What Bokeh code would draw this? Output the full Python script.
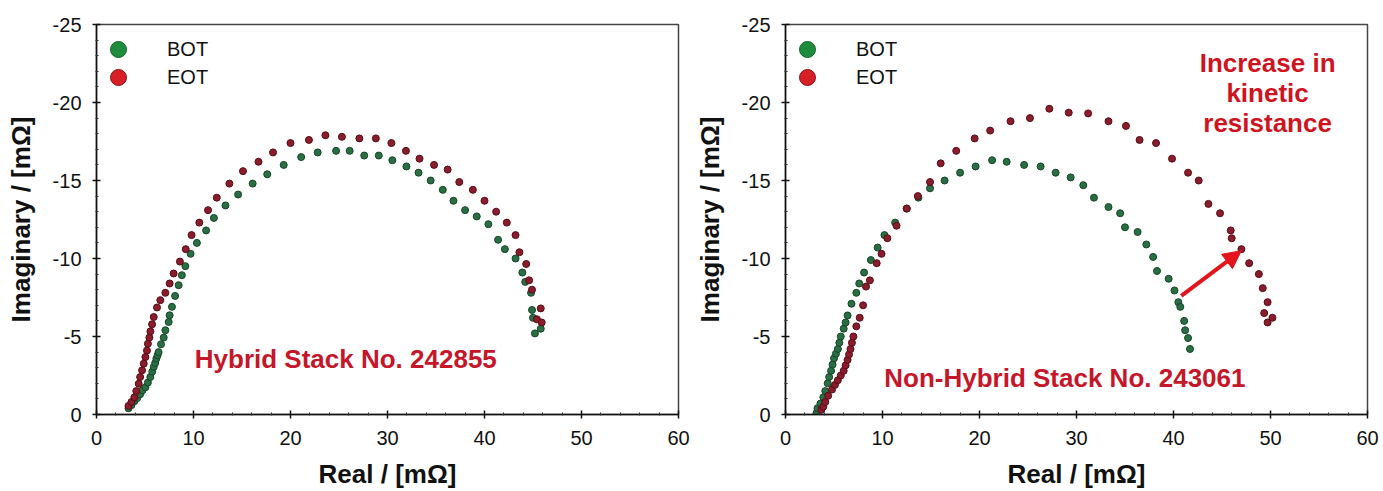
from bokeh.plotting import figure
from bokeh.layouts import row
from bokeh.models import (Range1d, FixedTicker, Legend, LegendItem, Arrow, NormalHead)
from bokeh.core.properties import value
from bokeh.embed import file_html
from bokeh.resources import INLINE

# ---------------- data ----------------
# Hybrid stack No. 242855
hyb_bot_real = [3.3, 3.6, 3.9, 4.2, 4.5, 4.75, 5.05, 5.3, 5.55, 5.75, 5.9, 6.05, 6.17, 6.3, 6.4,
                6.65, 6.93, 7.1, 7.44, 7.54, 7.78, 8.1, 8.47, 8.8, 9.16, 9.7, 10.35, 11.3, 12.1,
                13.3, 14.6, 16.1, 17.6, 19.3, 21.1, 22.8, 24.7, 26.1, 27.6, 29.1, 30.5, 31.95,
                33.2, 34.45, 35.7, 36.8, 38.0, 39.2, 40.4, 41.4, 42.1, 43.2, 43.9, 44.2, 44.8,
                44.9, 45.0, 45.8, 45.2]
hyb_bot_imag = [-0.4, -0.6, -0.85, -1.05, -1.3, -1.55, -1.75, -2.05, -2.4, -2.75, -3.05, -3.3,
                -3.58, -3.8, -4.0, -4.5, -4.93, -5.4, -5.93, -6.36, -6.9, -7.6, -8.29, -8.93,
                -9.51, -10.3, -11.0, -11.8, -12.6, -13.4, -14.1, -14.8, -15.4, -16.0, -16.5,
                -16.8, -16.9, -16.9, -16.6, -16.6, -16.3, -15.9, -15.5, -15.0, -14.4, -13.7,
                -13.1, -12.7, -12.2, -11.2, -10.6, -10.0, -9.1, -8.5, -7.8, -6.7, -6.2, -5.5,
                -5.2]
hyb_eot_real = [3.3, 3.6, 3.9, 4.1, 4.35, 4.5, 4.7, 4.87, 5.04, 5.2, 5.3, 5.45, 5.56, 5.73, 5.9,
                6.24, 6.58, 7.1, 7.54, 7.95, 8.6, 9.2, 9.8, 10.6, 11.5, 12.4, 13.7, 15.1, 16.7,
                18.2, 20.0, 21.9, 23.6, 25.3, 27.1, 28.8, 30.4, 31.9, 33.3, 34.8, 36.2, 37.4,
                38.8, 40.0, 41.2, 42.3, 43.2, 43.6, 44.3, 44.6, 44.9, 45.8, 45.4, 45.9]
hyb_eot_imag = [-0.55, -0.8, -1.1, -1.5, -1.97, -2.4, -2.83, -3.26, -3.68, -4.1, -4.54, -4.93,
                -5.33, -5.78, -6.25, -6.86, -7.33, -7.8, -8.4, -9.04, -9.8, -10.6, -11.5, -12.3,
                -13.1, -13.9, -14.8, -15.6, -16.2, -16.8, -17.4, -17.6, -17.9, -17.8, -17.7,
                -17.7, -17.4, -16.9, -16.4, -16.0, -15.7, -14.9, -14.4, -13.7, -13.0, -12.3,
                -11.5, -10.4, -9.65, -8.6, -8.0, -6.8, -6.1, -5.9]

# Non-hybrid stack No. 243061
non_bot_real = [3.2, 3.3, 3.6, 3.9, 4.1, 4.35, 4.5, 4.7, 4.85, 5.0, 5.2, 5.4, 5.55, 5.7, 6.0, 6.2,
                6.4, 6.8, 7.3, 7.6, 8.1, 8.8, 9.5, 10.2, 11.3, 12.5, 13.7, 14.9, 16.4, 18.0, 19.6,
                21.3, 22.8, 24.6, 26.3, 27.85, 29.4, 30.7, 31.8, 33.3, 34.5, 35.0, 36.3, 37.2,
                37.9, 38.3, 39.5, 40.1, 40.5, 40.7, 41.1, 41.2, 41.5, 41.7]
non_bot_imag = [-0.1, -0.4, -0.7, -1.1, -1.5, -2.0, -2.4, -2.8, -3.2, -3.6, -3.9, -4.2, -4.6,
                -5.0, -5.5, -5.9, -6.35, -7.1, -7.8, -8.4, -9.1, -9.9, -10.7, -11.5, -12.3,
                -13.2, -13.9, -14.5, -15.0, -15.5, -15.9, -16.3, -16.2, -16.0, -15.9, -15.5,
                -15.2, -14.7, -13.9, -13.3, -12.9, -12.0, -11.7, -10.9, -10.1, -9.2, -8.7,
                -7.95, -7.2, -6.9, -6.0, -5.4, -4.9, -4.2]
non_eot_real = [3.7, 3.9, 4.1, 4.4, 4.8, 5.1, 5.4, 5.7, 6.0, 6.2, 6.4, 6.55, 6.7, 6.85, 7.0, 7.3,
                7.65, 8.0, 8.3, 8.7, 9.4, 9.9, 10.5, 11.45, 12.5, 13.65, 14.9, 16.0, 17.6, 19.5,
                21.1, 23.2, 25.2, 27.2, 29.2, 31.2, 33.3, 35.1, 36.5, 38.2, 39.85, 41.5, 42.6,
                43.6, 44.8, 45.9, 46.0, 47.0, 47.8, 48.8, 49.2, 49.7, 49.35, 49.7, 50.2]
non_eot_imag = [-0.3, -0.5, -0.8, -1.2, -1.6, -1.9, -2.2, -2.5, -2.8, -3.15, -3.5, -3.85, -4.2,
                -4.6, -5.0, -5.65, -6.2, -7.0, -8.2, -8.6, -9.7, -10.3, -11.3, -12.1, -13.2,
                -14.0, -14.9, -16.1, -16.9, -17.7, -18.2, -18.8, -19.0, -19.6, -19.35, -19.3,
                -18.8, -18.5, -17.6, -17.4, -16.4, -15.5, -15.0, -13.5, -12.9, -11.8, -11.3,
                -10.6, -9.7, -9.0, -8.1, -7.2, -6.5, -5.9, -6.2]

series_names = ["BOT", "EOT"]
x_ticks = [0, 10, 20, 30, 40, 50, 60]
x_tick_labels = ["0", "10", "20", "30", "40", "50", "60"]
y_ticks = [0, -5, -10, -15, -20, -25]
y_tick_labels = ["0", "-5", "-10", "-15", "-20", "-25"]
x_label = "Real / [mΩ]"
y_label = "Imaginary / [mΩ]"

left_note = ["Hybrid Stack No. 242855"]
left_note_x = [25.7]
left_note_y = [-3.58]
right_note = ["Non-Hybrid Stack No. 243061"]
right_note_x = [28.8]
right_note_y = [-2.33]
callout = ["Increase in\nkinetic\nresistance"]
callout_x = [49.7]
callout_y = [-20.6]
arrow_start = (40.8, -7.6)
arrow_end = (47.0, -10.5)

# ---------------- style ----------------
FONT = "Liberation Sans"
GREEN_FILL, GREEN_LINE = "#2a6f44", "#164527"
RED_FILL, RED_LINE = "#8a1c2b", "#560e17"
LEG_GREEN, LEG_GREEN_LINE = "#1e8c3c", "#13662a"
LEG_RED, LEG_RED_LINE = "#d71f27", "#8c1218"
NOTE_RED = "#c5162a"
ARROW_RED = "#e3141b"
NAN = float("nan")


def make_panel(width, left_border, right_border, bot, eot, notes):
    p = figure(width=width, height=491, output_backend="svg", toolbar_location=None,
               x_range=Range1d(0, 60), y_range=Range1d(0, -25),
               min_border_left=left_border, min_border_right=right_border,
               min_border_top=24, min_border_bottom=77)
    p.xgrid.visible = False
    p.ygrid.visible = False
    p.outline_line_color = "#444444"
    p.outline_line_width = 1.5
    p.background_fill_color = "white"
    p.border_fill_color = "white"

    minor_x = [v for v in range(0, 61, 2) if v % 10]
    minor_y = [-v for v in range(0, 26) if v % 5]
    p.xaxis.ticker = FixedTicker(ticks=x_ticks, minor_ticks=minor_x)
    p.yaxis.ticker = FixedTicker(ticks=y_ticks, minor_ticks=minor_y)
    p.xaxis.major_label_overrides = dict(zip(x_ticks, x_tick_labels))
    p.yaxis.major_label_overrides = dict(zip(y_ticks, y_tick_labels))

    for ax in (p.xaxis, p.yaxis):
        ax.axis_line_color = "#111111"
        ax.axis_line_width = 1.5
        ax.major_tick_line_color = "#111111"
        ax.major_tick_line_width = 1.5
        ax.major_tick_in = 4
        ax.major_tick_out = 4
        ax.minor_tick_line_color = "#333333"
        ax.minor_tick_in = 2
        ax.minor_tick_out = 1
        ax.major_label_text_font = FONT
        ax.major_label_text_font_size = "20px"
        ax.major_label_text_color = "#111111"
        ax.axis_label_text_font = FONT
        ax.axis_label_text_font_size = "26px"
        ax.axis_label_text_font_style = "bold"
        ax.axis_label_text_color = "#111111"

    p.xaxis.axis_label = x_label
    p.yaxis.axis_label = y_label
    p.xaxis.major_label_standoff = 12
    p.xaxis.axis_label_standoff = 11
    p.yaxis.major_label_standoff = 11
    p.yaxis.axis_label_standoff = 14

    (bx, by), (ex, ey) = bot, eot
    p.scatter(bx, by, size=7, fill_color=GREEN_FILL, line_color=GREEN_LINE, line_width=1)
    p.scatter(ex, ey, size=7, fill_color=RED_FILL, line_color=RED_LINE, line_width=1)

    # legend-only renderers (brighter, larger swatches as in the original); a single NaN
    # row so nothing is drawn in the plot area
    l_bot = p.scatter([NAN], [NAN], fill_color=LEG_GREEN, line_color=LEG_GREEN_LINE, line_width=1)
    l_eot = p.scatter([NAN], [NAN], fill_color=LEG_RED, line_color=LEG_RED_LINE, line_width=1)
    # two one-item legends so that the rows can sit closer than the swatch box
    box_h = 50
    for i, (lab, rend) in enumerate(zip(series_names, [l_bot, l_eot])):
        top_offset = i * 28 - 5
        lg = Legend(items=[LegendItem(label=lab, renderers=[rend])],
                    location=(2, 390 - top_offset - box_h),
                    glyph_width=40, glyph_height=40,
                    padding=5, margin=0, label_standoff=29,
                    label_text_font=FONT, label_text_font_size="20px",
                    label_text_color="#111111", label_height=20,
                    border_line_color=None, background_fill_alpha=0)
        p.add_layout(lg)

    for (txt, tx, ty, col) in notes:
        p.text(x=tx, y=ty, text=txt, text_font=value(FONT), text_font_style="bold",
               text_font_size="26px", text_color=col, text_align="center",
               text_baseline="middle", text_line_height=1.0)
    return p


p1 = make_panel(690, 96, 12,
                (hyb_bot_real, hyb_bot_imag), (hyb_eot_real, hyb_eot_imag),
                [(left_note, left_note_x, left_note_y, NOTE_RED)])
p2 = make_panel(693, 95, 16,
                (non_bot_real, non_bot_imag), (non_eot_real, non_eot_imag),
                [(right_note, right_note_x, right_note_y, NOTE_RED),
                 (callout, callout_x, callout_y, "#d0141f")])
p2.add_layout(Arrow(end=NormalHead(size=18, fill_color=ARROW_RED, line_color=ARROW_RED),
                    x_start=arrow_start[0], y_start=arrow_start[1],
                    x_end=arrow_end[0], y_end=arrow_end[1],
                    line_color=ARROW_RED, line_width=4))

layout = row(p1, p2)
open("out.html", "w").write(file_html(layout, INLINE))
